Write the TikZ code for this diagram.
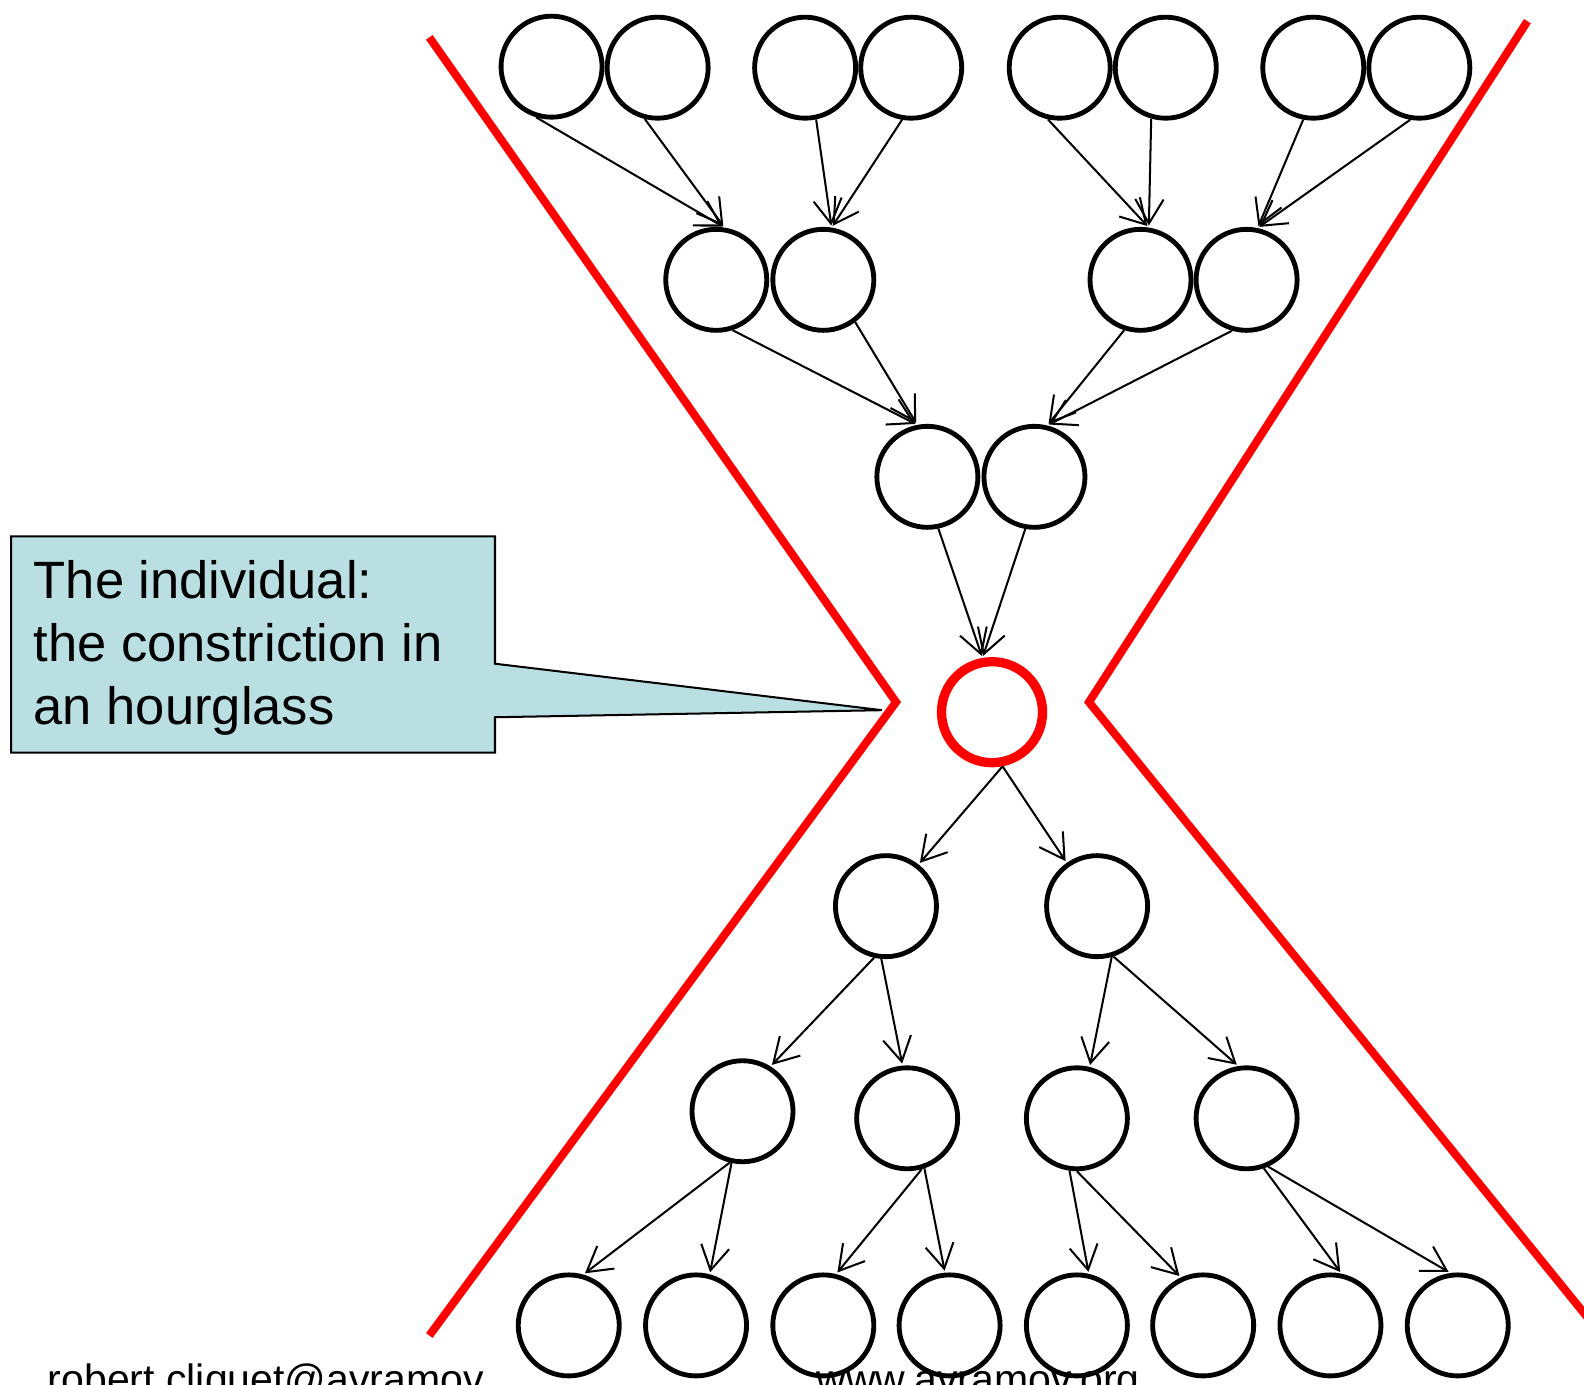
\documentclass[tikz,border=0pt]{standalone}
\usepackage{fontspec}
\setmainfont{Liberation Sans}
\usetikzlibrary{arrows.meta}
\definecolor{calloutfill}{RGB}{185,223,227}
\begin{document}
\begin{tikzpicture}[x=0.5pt,y=-0.5pt,
  circ/.style={circle,draw,line width=2.4pt,minimum size=50pt,inner sep=0pt},
  redcirc/.style={circle,draw=red,line width=4.6pt,minimum size=50pt,inner sep=0pt},
  arr/.style={line width=1pt,-{Straight Barb[length=12pt,width=14pt]},shorten >=1pt},
  redline/.style={draw=red,line width=4pt},
  lbl/.style={anchor=base west,inner sep=0pt,font=\fontsize{26pt}{31pt}\selectfont},
  foot/.style={anchor=base west,inner sep=0pt,font=\fontsize{20.3pt}{24pt}\selectfont}]
\clip (0,0) rectangle (1568,1371);
% hourglass outline
\draw[redline] (425,37) -- (887,695) -- (425,1322);
\draw[redline] (1512,21) -- (1078,695) -- (1641,1390);
% callout
\draw[fill=calloutfill,line width=1pt] (11,531) -- (490,531) -- (490,657) -- (873,703) -- (490,710) -- (490,745) -- (11,745) -- cycle;
\node[lbl] (l1) at (33,592) {The individual:};
\node[lbl] (l2) at (33,655) {the constriction in};
\node[lbl] (l3) at (33,717) {an hourglass};
% circles
\foreach \n/\x/\y in {t1/546/66,t2/651/67,t3/797/67,t4/902/67,t5/1049/67,t6/1154/67,t7/1300/67,t8/1405/67,
  m1/709/277,m2/815/277,m3/1129/277,m4/1234/277,
  c1/918/472,c2/1024/472,
  d1/877/897,d2/1086/897,
  e1/735/1100,e2/898/1107,e3/1066/1107,e4/1234/1107,
  f1/563/1312,f2/689/1312,f3/815/1312,f4/940/1312,f5/1066/1312,f6/1191/1312,f7/1317/1312,f8/1443/1312}
  \node[circ] (\n) at (\x,\y) {};
\node[redcirc] (R) at (982,705) {};
% arrows
\draw[arr] (t1.-107) -- (m1.81);
\draw[arr] (t2.-104) -- (m1.81);
\draw[arr] (t3.-78) -- (m2.81);
\draw[arr] (t4.-100) -- (m2.81);
\draw[arr] (t5.-103) -- (m3.81);
\draw[arr] (t6.-106) -- (m3.81);
\draw[arr] (t7.-101) -- (m4.78);
\draw[arr] (t8.-100) -- (m4.78);
\draw[arr] (m1.-72) -- (c1.101);
\draw[arr] (m2.-53) -- (c1.101);
\draw[arr] (m3.-108) -- (c2.76);
\draw[arr] (m4.-106) -- (c2.76);
\draw[arr] (c1.-78) -- (R.100);
\draw[arr] (c2.-100) -- (R.100);
\draw[arr] (R.-79) -- (d1.52);
\draw[arr] (R.-79) -- (d2.125);
\draw[arr] (d1.-103) -- (e1.58);
\draw[arr] (d1.-95) -- (e2.95);
\draw[arr] (d2.-74) -- (e3.76);
\draw[arr] (d2.-72) -- (e4.99);
\draw[arr] (e1.-104) -- (f1.74);
\draw[arr] (e1.-102) -- (f2.75);
\draw[arr] (e2.-74) -- (f3.76);
\draw[arr] (e2.-71) -- (f4.95);
\draw[arr] (e3.-98) -- (f5.77);
\draw[arr] (e3.-90) -- (f6.115);
\draw[arr] (e4.-71) -- (f7.78);
\draw[arr] (e4.-66) -- (f8.98);
% footer
\node[foot] (fa) at (47,1379) {robert cliquet@avramov};
\node[foot] (fb) at (808,1379) {www.avramov.org};
\end{tikzpicture}
\end{document}
